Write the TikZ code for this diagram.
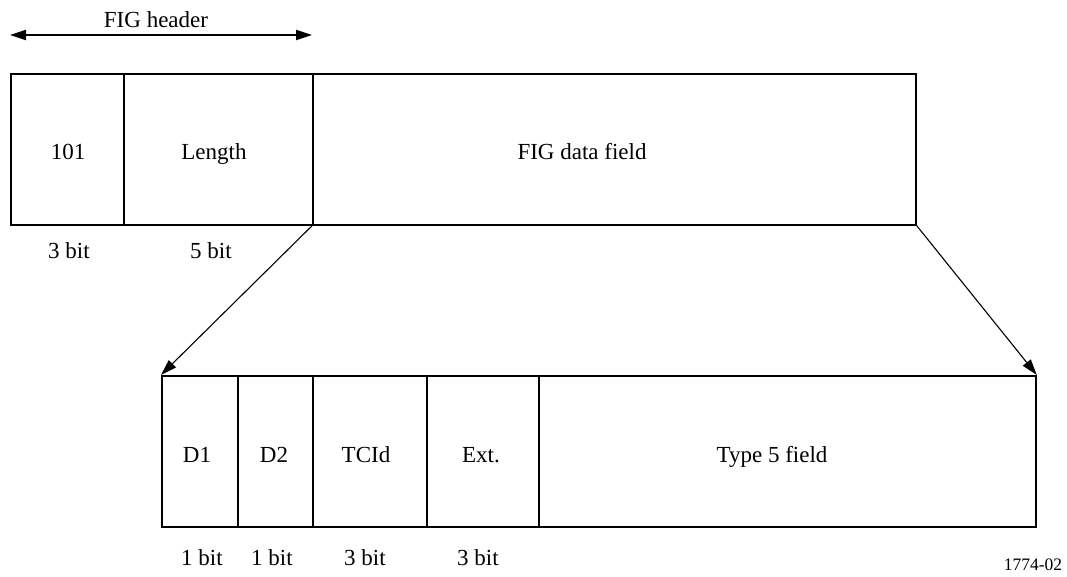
\documentclass[tikz,border=0pt]{standalone}
\usepackage{fontspec}
\setmainfont{Liberation Serif}
\usetikzlibrary{arrows.meta}
\begin{document}
\begin{tikzpicture}[x=1pt,y=-1pt,
  field/.style={draw, line width=1.8pt, anchor=north west, inner sep=0pt,
    minimum height=151pt},
  lbl/.style={inner sep=0pt, anchor=base, font=\fontsize{23}{27}\selectfont},
  zoomarrow/.style={line width=1.1pt, -{Triangle[length=16pt,width=10pt]}},
  spanarrow/.style={line width=1.8pt, {Triangle[length=16pt,width=10pt]}-{Triangle[length=16pt,width=10pt]}}]
\useasboundingbox (0,0) rectangle (1067,576);

% FIG header span
\node[lbl] (hdr) at (156,27) {FIG header};
\coordinate (hl) at (10,35);
\coordinate (hr) at (312,35);
\draw[spanarrow] (hl) -- (hr);

% FIG fields
\node[field, minimum width=113pt] (sync) at (10,73) {};
\node[field, minimum width=189pt] (len) at (123,73) {};
\node[field, minimum width=603pt] (data) at (312,73) {};
\node[lbl] at (68,159) {101};
\node[lbl] at (214,159) {Length};
\node[lbl] at (582,159) {FIG data field};
\node[lbl] at (69,258) {3 bit};
\node[lbl] at (211,258) {5 bit};

% Type 5 fields
\node[field, minimum width=76pt] (d1) at (161,375) {};
\node[field, minimum width=75pt] (d2) at (237,375) {};
\node[field, minimum width=114pt] (tcid) at (312,375) {};
\node[field, minimum width=112pt] (ext) at (426,375) {};
\node[field, minimum width=497pt] (t5) at (538,375) {};
\node[lbl] at (197,462) {D1};
\node[lbl] at (274,462) {D2};
\node[lbl] at (366,462) {TCId};
\node[lbl] at (481,462) {Ext.};
\node[lbl] at (772,462) {Type 5 field};
\node[lbl] at (202,565) {1 bit};
\node[lbl] at (272,565) {1 bit};
\node[lbl] at (365,565) {3 bit};
\node[lbl] at (478,565) {3 bit};

% expansion arrows
\draw[zoomarrow] (data.south west) -- (d1.north west);
\draw[zoomarrow] (data.south east) -- (t5.north east);

\node[inner sep=0pt, anchor=base, font=\fontsize{17.5}{20}\selectfont] (ref) at (1033,570) {1774-02};
\end{tikzpicture}
\end{document}
